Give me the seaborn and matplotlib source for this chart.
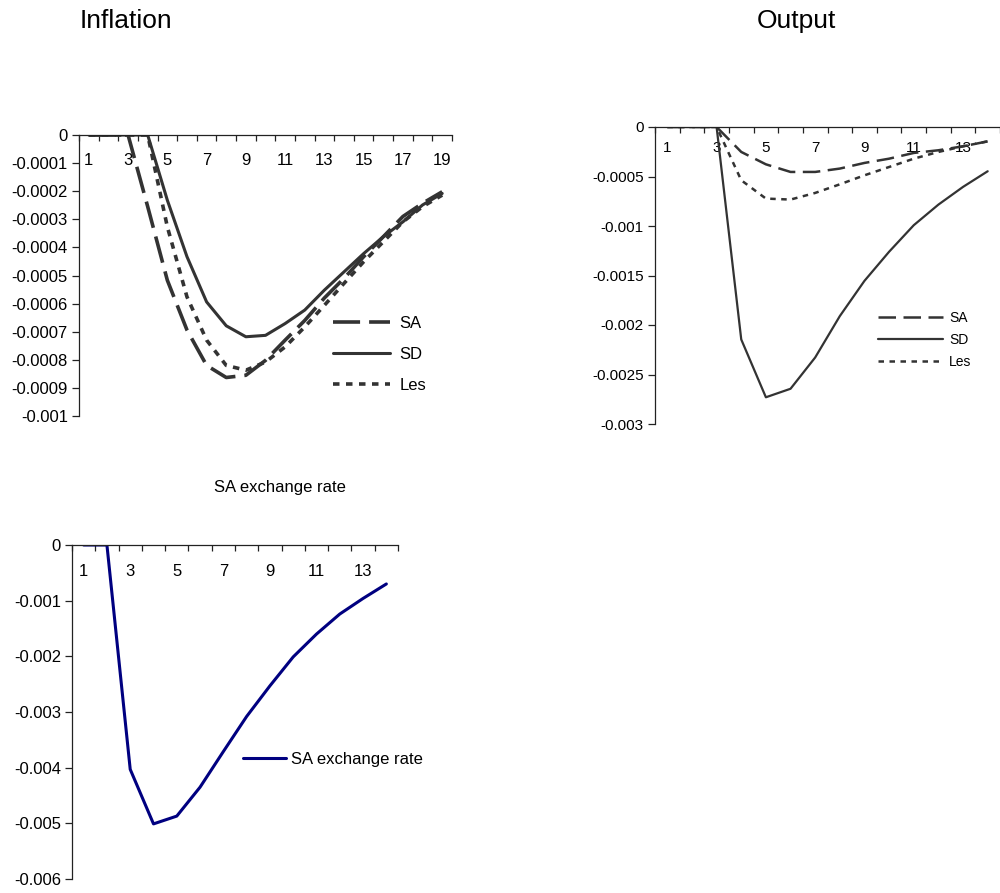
import matplotlib
matplotlib.use("Agg")
import matplotlib.pyplot as plt
import seaborn as sns
import numpy as np
import pandas as pd

# ---- data ----
infl_periods = list(range(1, 20))
infl_sa = [0, 0, 0, -0.000255, -0.000517, -0.000694, -0.00082, -0.000863, -0.000855,
           -0.000802, -0.00073, -0.00066, -0.00058, -0.00051, -0.000433, -0.000362,
           -0.00029, -0.000243, -0.000202]
infl_sd = [0, 0, 0, 0, -0.000232, -0.000433, -0.000594, -0.000679, -0.000718,
           -0.000713, -0.000671, -0.000623, -0.000552, -0.000487, -0.000422,
           -0.000362, -0.000309, -0.000249, -0.000208]
infl_les = [0, 0, 0, 0, -0.000327, -0.000576, -0.00073, -0.00082, -0.000837,
            -0.000808, -0.000754, -0.000683, -0.000606, -0.000528, -0.000451,
            -0.00038, -0.000309, -0.000255, -0.000214]
infl_yticks = [0, -0.0001, -0.0002, -0.0003, -0.0004, -0.0005, -0.0006, -0.0007,
               -0.0008, -0.0009, -0.001]
infl_ylabels = ['0', '-0.0001', '-0.0002', '-0.0003', '-0.0004', '-0.0005', '-0.0006',
                '-0.0007', '-0.0008', '-0.0009', '-0.001']

out_periods = list(range(1, 15))
out_sa = [0, 0, 0, -0.000252, -0.000377, -0.000454, -0.000454, -0.00042, -0.000363,
          -0.00032, -0.000262, -0.000235, -0.000195, -0.000145]
out_sd = [0, 0, 0, -0.002146, -0.00273, -0.002644, -0.002328, -0.00191, -0.001554,
          -0.00126, -0.000992, -0.000784, -0.000605, -0.000447]
out_les = [0, 0, 0, -0.000538, -0.000723, -0.000733, -0.000666, -0.000579, -0.000488,
           -0.000404, -0.00032, -0.000252, -0.000195, -0.000145]
out_yticks = [0, -0.0005, -0.001, -0.0015, -0.002, -0.0025, -0.003]
out_ylabels = ['0', '-0.0005', '-0.001', '-0.0015', '-0.002', '-0.0025', '-0.003']

exr_periods = list(range(1, 15))
exr_sa = [0, 0, -0.00403, -0.00501, -0.00487, -0.00435, -0.00371, -0.00308, -0.00253,
          -0.00201, -0.0016, -0.00124, -0.00096, -0.0007]
exr_yticks = [0, -0.001, -0.002, -0.003, -0.004, -0.005, -0.006]
exr_ylabels = ['0', '-0.001', '-0.002', '-0.003', '-0.004', '-0.005', '-0.006']

sns.set_style('white')
plt.rcParams['font.family'] = ['Liberation Sans', 'DejaVu Sans']
plt.rcParams['text.color'] = 'black'
plt.rcParams['xtick.color'] = 'black'
plt.rcParams['ytick.color'] = 'black'

W, H = 1000, 893
fig = plt.figure(figsize=(10, 8.93), dpi=100)


def px_axes(x0, y0, x1, y1):
    # pixel box (top-left origin) -> figure fraction
    return fig.add_axes([x0 / W, 1 - y1 / H, (x1 - x0) / W, (y1 - y0) / H])


def style_axes(ax, n, ymin, yticks, ylabels, fs, pad):
    ax.set_xlim(0.5, n + 0.5)
    ax.set_ylim(ymin, 0)
    for s in ['right', 'bottom']:
        ax.spines[s].set_visible(False)
    for s in ['left', 'top']:
        ax.spines[s].set_color('#222222')
        ax.spines[s].set_linewidth(0.9)
    ax.set_yticks(yticks)
    ax.set_yticklabels(ylabels)
    ax.set_xticks(list(range(1, n + 1, 2)))
    ax.set_xticklabels([str(i) for i in range(1, n + 1, 2)])
    ax.set_xticks(np.arange(0.5, n + 1, 1.0), minor=True)
    ax.tick_params(axis='y', left=True, direction='out', length=5, width=0.9,
                   color='#222222', labelsize=fs, pad=3)
    ax.tick_params(axis='x', which='major', bottom=False, top=False, labelbottom=False,
                   labeltop=True, labelsize=fs, pad=pad)
    ax.tick_params(axis='x', which='minor', bottom=False, top=True, direction='in',
                   length=4, width=0.9, color='#222222')
    ax.set_xlabel('')
    ax.set_ylabel('')
    ax.grid(False)


line_col = '#333333'

# ---- Inflation ----
ax1 = px_axes(79, 135, 452, 416)
df1 = pd.DataFrame({'period': infl_periods, 'SA': infl_sa, 'SD': infl_sd, 'Les': infl_les})
sns.lineplot(data=df1, x='period', y='SA', ax=ax1, color=line_col, lw=2.6,
             linestyle=(0, (7.5, 2.5)), label='SA')
sns.lineplot(data=df1, x='period', y='SD', ax=ax1, color=line_col, lw=2.2,
             linestyle='-', label='SD')
sns.lineplot(data=df1, x='period', y='Les', ax=ax1, color=line_col, lw=2.6,
             linestyle=(0, (1.8, 1.8)), label='Les')
style_axes(ax1, 19, -0.001, infl_yticks, infl_ylabels, 12, -27.5)
ax1.legend(loc='upper left', bbox_to_anchor=(333 / W, 1 - 316 / H),
           bbox_transform=fig.transFigure, frameon=False, fontsize=12,
           handlelength=3.4, handletextpad=0.6, labelspacing=0.95,
           borderpad=0, borderaxespad=0)

# ---- Output ----
ax2 = px_axes(655, 127, 1000, 424)
df2 = pd.DataFrame({'period': out_periods, 'SA': out_sa, 'SD': out_sd, 'Les': out_les})
sns.lineplot(data=df2, x='period', y='SA', ax=ax2, color=line_col, lw=1.8,
             linestyle=(0, (7, 3)), label='SA')
sns.lineplot(data=df2, x='period', y='SD', ax=ax2, color=line_col, lw=1.6,
             linestyle='-', label='SD')
sns.lineplot(data=df2, x='period', y='Les', ax=ax2, color=line_col, lw=1.8,
             linestyle=(0, (2.2, 2.2)), label='Les')
style_axes(ax2, 14, -0.003, out_yticks, out_ylabels, 11, -23.5)
ax2.legend(loc='upper left', bbox_to_anchor=(878 / W, 1 - 311 / H),
           bbox_transform=fig.transFigure, frameon=False, fontsize=10,
           handlelength=4.7, handletextpad=0.4, labelspacing=0.58,
           borderpad=0, borderaxespad=0)

# ---- SA exchange rate ----
ax3 = px_axes(72, 545, 398, 879)
df3 = pd.DataFrame({'period': exr_periods, 'SA exchange rate': exr_sa})
sns.lineplot(data=df3, x='period', y='SA exchange rate', ax=ax3, color='#000080',
             lw=2.2, label='SA exchange rate')
style_axes(ax3, 14, -0.006, exr_yticks, exr_ylabels, 12, -28)
ax3.legend(loc='upper left', bbox_to_anchor=(243 / W, 1 - 752 / H),
           bbox_transform=fig.transFigure, frameon=False, fontsize=12,
           handlelength=2.6, handletextpad=0.3, borderpad=0, borderaxespad=0)

# ---- titles ----
fig.text(126 / W, 1 - 21 / H, 'Inflation', ha='center', va='center', fontsize=19)
fig.text(796 / W, 1 - 21 / H, 'Output', ha='center', va='center', fontsize=19)
fig.text(280 / W, 1 - 488 / H, 'SA exchange rate', ha='center', va='center', fontsize=12)

fig.savefig('out.png', dpi=100)
